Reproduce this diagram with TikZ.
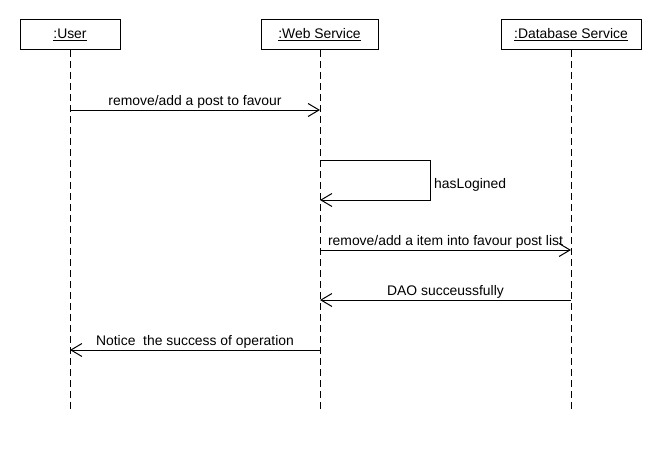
\documentclass[tikz,border=0pt]{standalone}
\usepackage{fontspec}
\setmainfont{Liberation Sans}
\usetikzlibrary{arrows.meta}
\begin{document}
\begin{tikzpicture}[x=1pt,y=-1pt,
  font=\fontsize{13.9pt}{16pt}\selectfont,
  obj/.style={draw,line width=1pt,minimum height=30pt,inner sep=0pt},
  lifeline/.style={line width=1pt,dash pattern=on 7pt off 4pt},
  msg/.style={line width=1pt,-{Straight Barb[length=11pt,width=13pt,line width=1pt]}},
  lbl/.style={anchor=base,inner sep=0pt}]
\useasboundingbox (0,0) rectangle (660,460);
\fill[white] (0,0) rectangle (660,460);
% objects
\node[obj,minimum width=100pt] (user) at (70,34.5) {\underline{:User}};
\node[obj,minimum width=117pt] (web) at (319.5,34.5) {\underline{:Web Service}};
\node[obj,minimum width=140pt] (db) at (571,34.5) {\underline{:Database Service}};
% lifeline ends
\coordinate (userE) at (70,411);
\coordinate (webE) at (320,411);
\coordinate (dbE) at (571,411);
\draw[lifeline] (user.south -| userE) -- (userE);
\draw[lifeline] (web.south -| webE) -- (webE);
\draw[lifeline] (db.south -| dbE) -- (dbE);
% message points
\coordinate (u1) at (70,110); \coordinate (w1) at (320,110);
\coordinate (w2) at (320,160); \coordinate (s1) at (430,160);
\coordinate (s2) at (430,200); \coordinate (w3) at (320,200);
\coordinate (w4) at (320,250); \coordinate (d4) at (571,250);
\coordinate (d5) at (571,300); \coordinate (w5) at (320,300);
\coordinate (w6) at (320,350); \coordinate (u6) at (70,350);
\draw[msg] (u1) -- (w1);
\node[lbl] (m1) at (195,105) {remove/add a post to favour};
\draw[msg] (w2) -- (s1) -- (s2) -- (w3);
\node[lbl,anchor=base west] (m2) at (434,188) {hasLogined};
\draw[msg] (w4) -- (d4);
\node[lbl] (m3) at (445.5,245) {remove/add a item into favour post list};
\draw[msg] (d5) -- (w5);
\node[lbl] (m4) at (445.5,295) {DAO succeussfully};
\draw[msg] (w6) -- (u6);
\node[lbl] (m5) at (195,345) {Notice\ \ the success of operation};
\end{tikzpicture}
\end{document}
